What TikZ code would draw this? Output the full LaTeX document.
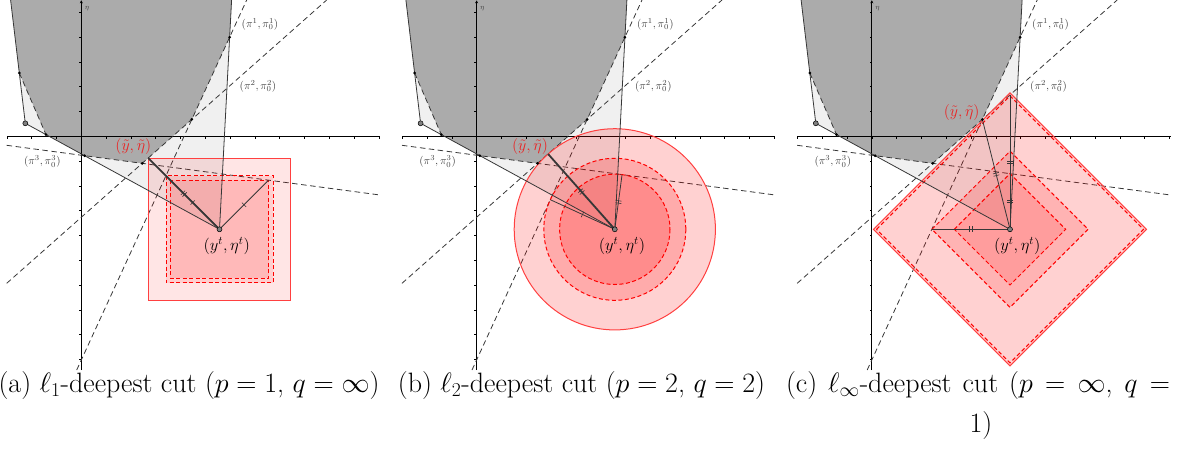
\RequirePackage{fix-cm}
\documentclass[tikz,border=0pt]{standalone}
\usetikzlibrary{calc,decorations.markings,arrows.meta}
\definecolor{dgray}{RGB}{171,171,171}
\definecolor{lgray}{RGB}{240,240,240}
\definecolor{lineg}{RGB}{55,55,55}
\definecolor{lblred}{RGB}{235,35,35}
\tikzset{
  cutline/.style={draw=lineg, line width=0.8pt, dash pattern=on 5.5pt off 3.5pt},
  edgeline/.style={draw=lineg, line width=0.8pt},
  segline/.style={draw=lineg, line width=0.8pt},
  thickline/.style={draw=lineg, line width=1.8pt},
  axisline/.style={draw=black, line width=0.9pt},
  dotpt/.style={circle, fill=black, inner sep=0pt, minimum size=3pt},
  bigpt/.style={circle, draw=black, fill=gray, line width=0.5pt, inner sep=0pt, minimum size=5pt},
  ballsolid/.style={draw=red!75, line width=1pt, fill=red, fill opacity=#1},
  balldash/.style={draw=red, line width=1pt, dash pattern=on 4pt off 2.5pt, fill=red, fill opacity=#1},
  onetick/.style={postaction={decorate, decoration={markings, mark=at position 0.5 with {\draw[lineg, line width=0.6pt, solid] (0,-3pt) -- (0,3pt);}}}},
  twotick/.style={postaction={decorate, decoration={markings, mark=at position 0.5 with {\draw[lineg, line width=0.6pt, solid] (-1.2pt,-3pt) -- (-1.2pt,3pt) (1.2pt,-3pt) -- (1.2pt,3pt);}}}},
  smalllbl/.style={text=black!75, inner sep=0pt, font=\fontsize{11}{13}\selectfont},
  etalbl/.style={text=black!75, inner sep=0pt, font=\fontsize{7}{8}\selectfont},
  biglbl/.style={text=black, inner sep=0pt, font=\fontsize{16.5}{19}\selectfont},
  redlbl/.style={text=lblred, inner sep=0pt, font=\fontsize{16}{19}\selectfont},
  caplbl/.style={text=black, inner sep=0pt, font=\fontsize{28}{32}\selectfont},
}
\def\Yx{219.5}
\def\Yy{229.3}
\newcommand\panelfill[1]{%
  \coordinate (A1#1) at (76.7,370); \coordinate (B1#1) at (246.7,0);
  \coordinate (A2#1) at (6.7,283.3); \coordinate (B2#1) at (326.7,0);
  \coordinate (A3#1) at (6.7,145.3); \coordinate (B3#1) at (380,195);
  \coordinate (C#1) at (25.3,123.3);
  \coordinate (Y#1) at (\Yx,\Yy);
  \coordinate (T1#1) at (10.6,0);
  \coordinate (T2#1) at (231.6,0);
  \coordinate (P1#1) at (19.3,73);
  \coordinate (P2#1) at (46,134.6);
  \coordinate (P3#1) at (intersection of C#1--Y#1 and A3#1--B3#1);
  \coordinate (P4#1) at (intersection of A2#1--B2#1 and A3#1--B3#1);
  \coordinate (P5#1) at (intersection of A1#1--B1#1 and A2#1--B2#1);
  \coordinate (P6#1) at ($(A1#1)!0.8992!(B1#1)$);
  \fill[lgray] (T1#1) -- (C#1) -- (Y#1) -- (T2#1) -- cycle;
  \fill[dgray] (T1#1) -- (P1#1) -- (P2#1) -- (P3#1) -- (P4#1) -- (P5#1) -- (P6#1) -- (T2#1) -- cycle;
  \draw[axisline] (7,136.3) -- (380,136.3);
  \draw[axisline, -{Stealth[length=3pt,width=3pt]}] (81.3,370) -- (81.3,0.3);
  \foreach \k in {-3,...,12} \draw[line width=0.5pt] ({81.3+24.8*\k},136.3) -- ++(0,2.2);
  \foreach \k in {-5,...,9} \draw[line width=0.5pt] (81.3,{136.3+24.8*\k}) -- ++(-2.2,0);
  \draw[cutline] (A1#1) -- (B1#1);
  \draw[cutline] (A2#1) -- (B2#1);
  \draw[cutline] (A3#1) -- (B3#1);
  \draw[cutline] (P1#1) -- (P2#1);
}
\newcommand\panellines[1]{%
  \draw[edgeline] (T1#1) -- (C#1) -- (Y#1) -- (T2#1);
}
\newcommand\paneldots[1]{%
  \foreach \q in {P1,P2,P3,P4,P5,P6} \node[dotpt] (\q d#1) at (\q#1) {};
  \node[bigpt] (Cd#1) at (C#1) {};
  \node[bigpt] (Yd#1) at (Y#1) {};
  \node[smalllbl] (pi1#1) at (260,24) {$(\pi^1,\pi^1_0)$};
  \node[smalllbl] (pi2#1) at (258,86) {$(\pi^2,\pi^2_0)$};
  \node[smalllbl] (pi3#1) at (42.3,161.7) {$(\pi^3,\pi^3_0)$};
  \node[etalbl] (eta#1) at (87,9) {$\eta$};
  \node[biglbl] (yl#1) at (226.7,246) {$(y^t,\eta^t)$};
}
\begin{document}
\begin{tikzpicture}[x=1pt,y=-1pt]
\useasboundingbox (0,0) rectangle (1178,451);
% ---------------- panel (a)
\begin{scope}
  \panelfill{a}
  \path[ballsolid=0.1] (\Yx-71.3,\Yy-71.3) rectangle (\Yx+71.3,\Yy+71.3);
  \path[balldash=0.1] (\Yx-53.5,\Yy-53.5) rectangle (\Yx+53.5,\Yy+53.5);
  \path[balldash=0.1] (\Yx-49.1,\Yy-49.1) rectangle (\Yx+49.1,\Yy+49.1);
  \panellines{a}
  \coordinate (yta) at (\Yx-71.3,\Yy-71.3);
  \coordinate (c1a) at (\Yx-53.5,\Yy-53.5);
  \coordinate (c3a) at (\Yx+49.1,\Yy-49.1);
  \draw[thickline, twotick] (yta) -- (Ya);
  \draw[segline, onetick] (c1a) -- (Ya);
  \draw[segline, onetick] (Ya) -- (c3a);
  \paneldots{a}
  \node[redlbl] (ytla) at (133.3,146.7) {$(\tilde y,\tilde\eta)$};
\end{scope}
% ---------------- panel (b)
\begin{scope}[xshift=395.3pt]
  \panelfill{b}
  \path[ballsolid=0.18] (Yb) circle[radius=100.6];
  \path[balldash=0.18] (Yb) circle[radius=71];
  \path[balldash=0.18] (Yb) circle[radius=55.2];
  \panellines{b}
  \coordinate (ytb) at ($(A2b)!(Yb)!(B2b)$);
  \coordinate (f1b) at ($(A1b)!(Yb)!(B1b)$);
  \coordinate (f3b) at ($(A3b)!(Yb)!(B3b)$);
  \draw[thickline, twotick] (ytb) -- (Yb);
  \draw[segline, onetick] (f1b) -- (Yb);
  \draw[segline, twotick] (Yb) -- (f3b);
  \paneldots{b}
  \node[redlbl] (ytlb) at (134.7,146.7) {$(\tilde y,\tilde\eta)$};
\end{scope}
% ---------------- panel (c)
\begin{scope}[xshift=790.5pt]
  \panelfill{c}
  \path[ballsolid=0.18] (\Yx-136.5,\Yy) -- (\Yx,\Yy-136.5) -- (\Yx+136.5,\Yy) -- (\Yx,\Yy+136.5) -- cycle;
  \path[balldash=0] (\Yx-133.5,\Yy) -- (\Yx,\Yy-133.5) -- (\Yx+133.5,\Yy) -- (\Yx,\Yy+133.5) -- cycle;
  \path[balldash=0.14] (\Yx-78.1,\Yy) -- (\Yx,\Yy-78.1) -- (\Yx+78.1,\Yy) -- (\Yx,\Yy+78.1) -- cycle;
  \path[balldash=0.12] (\Yx-55.7,\Yy) -- (\Yx,\Yy-55.7) -- (\Yx+55.7,\Yy) -- (\Yx,\Yy+55.7) -- cycle;
  \panellines{c}
  \coordinate (v2c) at (\Yx,\Yy-134.4);
  \coordinate (v3c) at (\Yx,\Yy-55.7);
  \coordinate (h1c) at (\Yx-78.1,\Yy);
  \draw[segline, twotick] (P5c) -- (Yc);
  \draw[segline, twotick] (Yc) -- (v2c);
  \draw[segline, twotick] (Yc) -- (v3c);
  \draw[segline, twotick] (Yc) -- (h1c);
  \paneldots{c}
  \node[redlbl] (ytlc) at (171.2,112.7) {$(\tilde y,\tilde\eta)$};
\end{scope}
% ---------------- captions
\node[caplbl, anchor=base] (capa) at (189,392) {(a) $\ell_1$-deepest cut ($p=1$, $q=\infty$)};
\node[caplbl, anchor=base] (capb) at (581.5,392) {(b) $\ell_2$-deepest cut ($p=2$, $q=2$)};
\node[caplbl, anchor=base] (capc) at (978,392) {\makebox[384pt][s]{(c) $\ell_\infty$-deepest cut ($p=\infty$, $q=$}};
\node[caplbl, anchor=base] (capc2) at (981,432) {1)};
\end{tikzpicture}
\end{document}
